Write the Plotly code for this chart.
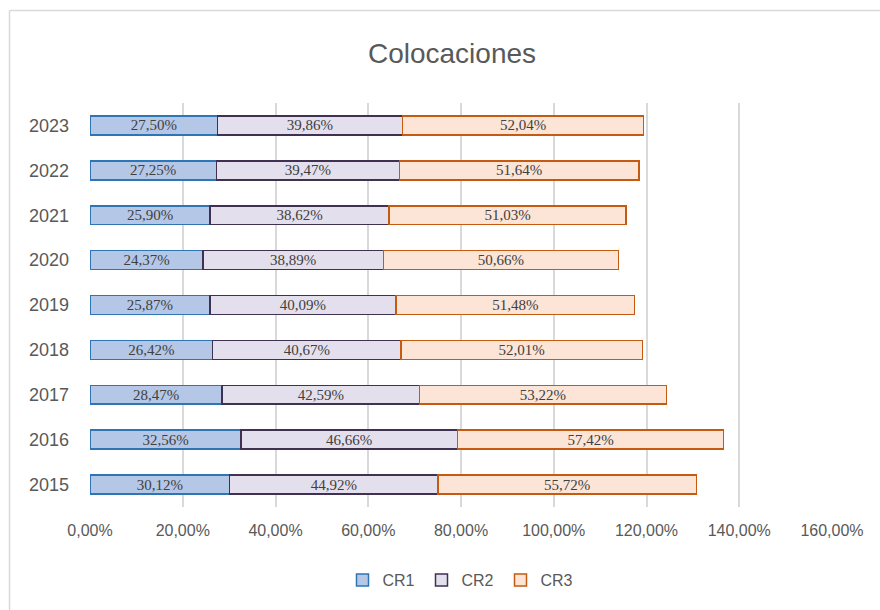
import plotly.graph_objects as go

years = ["2015", "2016", "2017", "2018", "2019", "2020", "2021", "2022", "2023"]
cr1 = [30.12, 32.56, 28.47, 26.42, 25.87, 24.37, 25.90, 27.25, 27.50]
cr2 = [44.92, 46.66, 42.59, 40.67, 40.09, 38.89, 38.62, 39.47, 39.86]
cr3 = [55.72, 57.42, 53.22, 52.01, 51.48, 50.66, 51.03, 51.64, 52.04]
series_names = ["CR1", "CR2", "CR3"]
tick_vals = [0, 20, 40, 60, 80, 100, 120, 140, 160]

fills = ["#B4C7E7", "#E4DFEC", "#FCE4D6"]
lines = ["#2E75B6", "#403152", "#C55A11"]

def fmt(v):
    return f"{v:.2f}%".replace(".", ",")

fig = go.Figure()
for name, vals, fc, lc in zip(series_names, [cr1, cr2, cr3], fills, lines):
    fig.add_trace(go.Bar(
        y=years, x=vals, name=name, orientation="h",
        marker=dict(color=fc, line=dict(color=lc, width=1.5)),
        text=[fmt(v) for v in vals],
        textposition="inside", insidetextanchor="middle",
        textfont=dict(family="Liberation Serif", size=15, color="#404040"),
        constraintext="none",
        hoverinfo="skip",
    ))

L, R, T, B = 90, 48, 103, 103
W, H = 880, 610
pw = W - L - R
ph = H - T - B

fig.update_layout(
    width=W, height=H,
    barmode="stack", bargap=0.58,
    margin=dict(l=L, r=R, t=T, b=B),
    paper_bgcolor="white", plot_bgcolor="white",
    title=dict(text="Colocaciones", x=452 / W, xanchor="center", y=1 - 53 / H, yanchor="middle",
               font=dict(family="Liberation Sans", size=28, color="#595959")),
    xaxis=dict(range=[0, 160], tickvals=tick_vals,
               ticktext=[f"{v:.2f}%".replace(".", ",") for v in tick_vals],
               showgrid=True, gridcolor="#D9D9D9", gridwidth=1.5,
               zeroline=False, showline=False, ticks="",
               ticklabelstandoff=12,
               tickfont=dict(family="Liberation Sans", size=16, color="#595959")),
    yaxis=dict(showgrid=False, zeroline=False, showline=False, ticks="",
               ticklabelstandoff=20,
               tickfont=dict(family="Liberation Sans", size=18, color="#595959")),
    legend=dict(orientation="h", x=0.5, xanchor="center", y=-(580 - 507) / ph, yanchor="middle",
                font=dict(family="Liberation Sans", size=16, color="#595959"),
                itemwidth=30, entrywidth=34, traceorder="normal"),
    showlegend=True,
)

# chart border (left and top visible)
x0 = (9.5 - L) / pw
y0 = 1 + (T - 10.5) / ph
fig.add_shape(type="line", xref="paper", yref="paper", x0=x0, x1=x0, y0=y0, y1=-(B + 5) / ph,
              line=dict(color="#D9D9D9", width=1.5))
fig.add_shape(type="line", xref="paper", yref="paper", x0=x0, x1=(W + 5 - L) / pw, y0=y0, y1=y0,
              line=dict(color="#D9D9D9", width=1.5))

fig.write_html("out.html", config={"displayModeBar": False},
               post_script="document.body.style.margin='0px';document.body.style.overflow='hidden';")
